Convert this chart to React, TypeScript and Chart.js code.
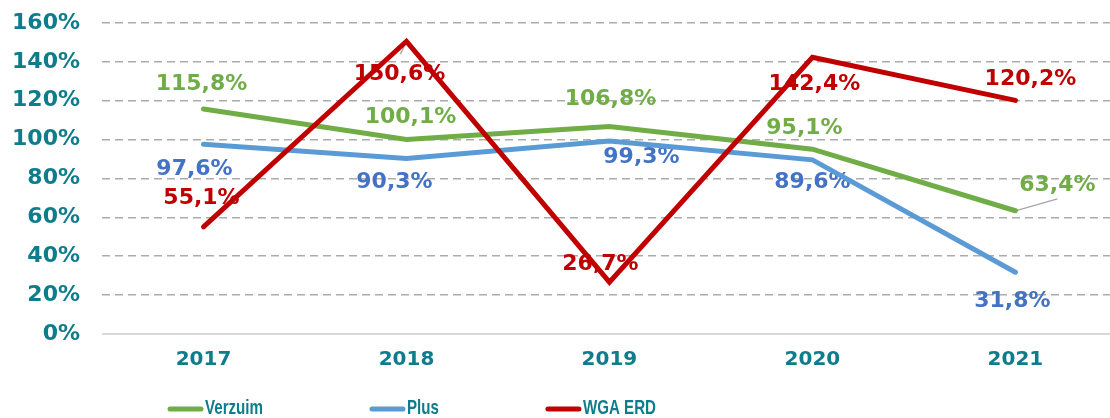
import React, { useEffect, useRef } from "react";
import { Chart, registerables } from "chart.js";

Chart.register(...registerables);

const categories = ["2017", "2018", "2019", "2020", "2021"];
const verzuim = [115.8, 100.1, 106.8, 95.1, 63.4];
const plus = [97.6, 90.3, 99.3, 89.6, 31.8];
const wgaErd = [55.1, 150.6, 26.7, 142.4, 120.2];
const seriesNames = ["Verzuim", "Plus", "WGA ERD"];
const yMin = 0;
const yMax = 160;
const yStep = 20;

const TEAL = "#0E7C8B";
const GREEN = "#70AD47";
const BLUE = "#5B9BD5";
const RED = "#C00000";
const LABEL_COLORS = [GREEN, "#4472C4", RED];

// label placement offsets (dx, dy) relative to each point, per series
const labelOffsets = [
  [[-2, -26], [4, -23], [1, -28], [-8, -22], [42, -26]],
  [[-9, 24], [-12, 23], [32, 15], [0, 21], [-3, 28]],
  [[-2, -30], [-7, 32], [-9, -19], [2, 26], [15, -22]],
];
// leader lines: [series, index, dx, dy] from point to the label side
const leaders = [
  [0, 4, 42, -12],
  [2, 1, -6, 13],
];

const fmt = (v: number) => v.toFixed(1).replace(".", ",") + "%";

const labelPlugin = {
  id: "valueLabels",
  beforeDatasetsDraw(chart: any) {
    const ctx = chart.ctx;
    ctx.save();
    ctx.strokeStyle = "#A6A6A6";
    ctx.lineWidth = 1.3;
    leaders.forEach(([s, i, dx, dy]) => {
      const el = chart.getDatasetMeta(s).data[i];
      ctx.beginPath();
      ctx.moveTo(el.x, el.y);
      ctx.lineTo(el.x + dx, el.y + dy);
      ctx.stroke();
    });
    ctx.font = 'bold 22px "DejaVu Sans"';
    ctx.textAlign = "center";
    ctx.textBaseline = "middle";
    chart.data.datasets.forEach((ds: any, s: number) => {
      const meta = chart.getDatasetMeta(s);
      ctx.fillStyle = LABEL_COLORS[s];
      meta.data.forEach((el: any, i: number) => {
        const [dx, dy] = labelOffsets[s][i];
        ctx.fillText(fmt(ds.data[i].y), el.x + dx, el.y + dy + 1);
      });
    });
    ctx.restore();
  },
};

const LEGEND_SCALE_X = 0.72;
const legendPlugin = {
  id: "customLegend",
  afterDraw(chart: any) {
    const ctx = chart.ctx;
    ctx.save();
    ctx.font = 'bold 21px "Liberation Sans"';
    ctx.textBaseline = "middle";
    ctx.textAlign = "left";
    let x = 168;
    const y = 408;
    chart.data.datasets.forEach((ds: any) => {
      ctx.strokeStyle = ds.borderColor;
      ctx.lineWidth = 5;
      ctx.lineCap = "round";
      ctx.beginPath();
      ctx.moveTo(x + 2, y + 1);
      ctx.lineTo(x + 33, y + 1);
      ctx.stroke();
      ctx.fillStyle = TEAL;
      const tx = x + 37;
      ctx.save();
      ctx.translate(tx, y);
      ctx.scale(LEGEND_SCALE_X, 1);
      ctx.fillText(ds.label, 0, 0);
      ctx.restore();
      x = tx + ctx.measureText(ds.label).width * LEGEND_SCALE_X + 107;
    });
    ctx.restore();
  },
};

export default function App() {
  const ref = useRef<HTMLCanvasElement>(null);
  useEffect(() => {
    if (!ref.current) return;
    const mk = (arr: number[]) => arr.map((v, i) => ({ x: i, y: v }));
    const chart = new Chart(ref.current, {
      type: "line",
      data: {
        datasets: [
          { label: seriesNames[0], data: mk(verzuim), borderColor: GREEN, backgroundColor: GREEN, order: 3 },
          { label: seriesNames[1], data: mk(plus), borderColor: BLUE, backgroundColor: BLUE, order: 2 },
          { label: seriesNames[2], data: mk(wgaErd), borderColor: RED, backgroundColor: RED, order: 1 },
        ],
      },
      options: {
        animation: false,
        responsive: false,
        devicePixelRatio: 1,
        layout: { padding: { left: 0, right: 0, top: 23, bottom: 46 } },
        elements: {
          line: { borderWidth: 5, borderCapStyle: "round", borderJoinStyle: "miter", tension: 0 },
          point: { radius: 0, hoverRadius: 0 },
        },
        plugins: { legend: { display: false }, tooltip: { enabled: false } },
        scales: {
          x: {
            type: "linear",
            min: -0.5,
            max: 4.466,
            afterBuildTicks: (scale: any) => {
              scale.ticks = categories.map((_, i) => ({ value: i }));
            },
            afterFit: (scale: any) => {
              scale.height = 38;
              scale.paddingLeft = 0;
              scale.paddingRight = 0;
            },
            grid: { display: false, drawTicks: false },
            border: { display: false },
            ticks: {
              padding: 14,
              color: TEAL,
              font: { family: "DejaVu Sans", weight: "bold", size: 20 },
              maxRotation: 0,
              autoSkip: false,
              callback: (v: any) => categories[v] ?? "",
            },
          },
          y: {
            min: yMin,
            max: yMax,
            afterFit: (scale: any) => {
              scale.width = 102;
              scale.paddingTop = 0;
              scale.paddingBottom = 0;
            },
            grid: {
              drawTicks: false,
              color: (c: any) => (c.tick && c.tick.value === 0 ? "#D9D9D9" : "#ABABAB"),
              lineWidth: (c: any) => (c.tick && c.tick.value === 0 ? 2 : 1.6),
            },
            border: {
              display: false,
              dash: (c: any) => (c.tick && c.tick.value === 0 ? [] : [8, 5]),
            },
            ticks: {
              stepSize: yStep,
              padding: 22,
              color: TEAL,
              font: { family: "DejaVu Sans", weight: "bold", size: 22 },
              callback: (v: any) => v + "%",
            },
          },
        },
      },
      plugins: [labelPlugin, legendPlugin],
    } as any);
    return () => chart.destroy();
  }, []);
  return (
    <div style={{ position: "absolute", left: 0, top: 0, width: 1110, height: 418, background: "#fff" }}>
      <canvas ref={ref} width={1110} height={418} />
    </div>
  );
}
